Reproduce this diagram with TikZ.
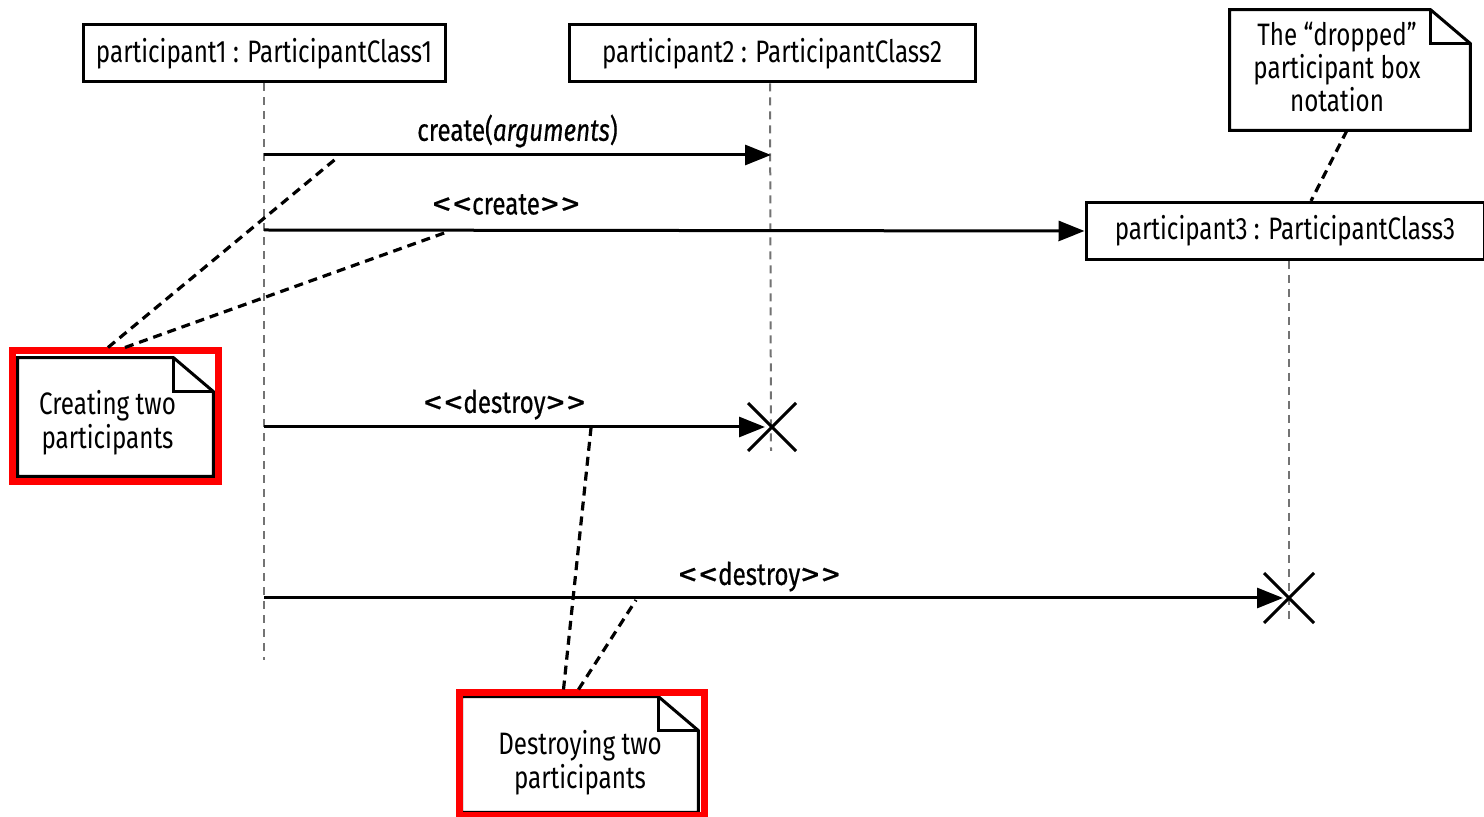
\documentclass[tikz,border=0pt]{standalone}
\usepackage{fontspec}
\setmainfont[FakeStretch=0.78]{Fira Sans}
\newfontfamily\msgfont[FakeStretch=0.78, FakeBold=0.5]{Fira Sans}
\newfontfamily\brfont[FakeStretch=1.25, FakeBold=0.5]{Fira Sans}
\newcommand\openguil{{\brfont<\kern0.6pt<}}
\newcommand\closeguil{{\brfont>\kern0.6pt>}}
\usetikzlibrary{arrows.meta}
\begin{document}
\begin{tikzpicture}[x=0.5pt,y=-0.5pt,
  every node/.style={font=\fontsize{15.5}{17}\selectfont, inner sep=0pt},
  partbox/.style={draw, line width=1.5pt, minimum height=28.5pt, fill=white},
  lifeline/.style={draw=black!55, line width=1pt, dash pattern=on 4pt off 3pt},
  msg/.style={line width=1.5pt, -{Triangle[length=13pt,width=10pt]}},
  msglabel/.style={above=3pt, font=\msgfont\fontsize{15.5}{17}\selectfont},
  notelink/.style={line width=1.6pt, dash pattern=on 4.5pt off 3pt},
  notebody/.style={line width=1.5pt, fill=white},
  destroyx/.style={line width=1.5pt},
  highlight/.style={draw=red, line width=3.5pt}
]
\useasboundingbox (0,0) rectangle (1484,817);
\fill[white] (0,0) rectangle (1484,817);

% participants
\node[partbox, minimum width=181pt] (p1) at (264,53.5) {participant1 : ParticipantClass1};
\node[partbox, minimum width=203pt] (p2) at (772,53.5) {participant2 : ParticipantClass2};
\node[partbox, minimum width=199pt] (p3) at (1285,231) {participant3 : ParticipantClass3};

% lifeline points
\coordinate (l1end) at (264,660);
\coordinate (m1s) at (264,155);
\coordinate (m1e) at (771,155);
\coordinate (m2s) at (264,230);
\coordinate (m3s) at (264,427);
\coordinate (x2) at (771,427);
\coordinate (m4s) at (264,598);
\coordinate (x3) at (1289,598);

\draw[lifeline] (p1.south) -- (l1end);
\draw[lifeline] ([xshift=-1pt]p2.south) -- ([yshift=-12pt]x2);
\draw[lifeline] ([xshift=2pt]p3.south) -- ([yshift=-12pt]x3);

% messages
\draw[msg] (m1s) -- (m1e) node[midway, msglabel] {create(\textit{arguments})};
\draw[msg] (m2s) -- (p3.west) node[pos=0.295, msglabel, above=4pt] {\openguil create\closeguil};
\draw[msg] (m3s) -- ([xshift=-3pt]x2) node[pos=0.48, msglabel, above=0pt] {\openguil destroy\closeguil};
\draw[msg] (m4s) -- ([xshift=-3pt]x3) node[pos=0.486, msglabel, above=-0.5pt] {\openguil destroy\closeguil};

% destruction marks
\draw[destroyx] ([shift={(-23,-24)}]x2) -- ([shift={(25,24)}]x2)
                ([shift={(-23,24)}]x2) -- ([shift={(25,-24)}]x2);
\draw[destroyx] ([shift={(-25,-25)}]x3) -- ([shift={(25,25)}]x3)
                ([shift={(-25,25)}]x3) -- ([shift={(25,-25)}]x3);

% note: creating
\node[minimum width=97.5pt, minimum height=59pt] (nc) at (115.5,417) {};
\draw[notebody] (nc.south west) -- (nc.north west) -- ([xshift=-20pt]nc.north east)
  -- ([yshift=-17pt]nc.north east) -- (nc.south east) -- cycle;
\draw[line width=1.5pt] ([xshift=-20pt]nc.north east) |- ([yshift=-17pt]nc.north east);
\node[align=center] at ([shift={(-8,6)}]nc) {Creating two\\participants};
\node[highlight, minimum width=103pt, minimum height=65.5pt] (hc) at (115,416.5) {};

% note: dropped
\node[minimum width=120pt, minimum height=60pt] (nd) at (1350,70) {};
\draw[notebody] (nd.south west) -- (nd.north west) -- ([xshift=-20pt]nd.north east)
  -- ([yshift=-17pt]nd.north east) -- (nd.south east) -- cycle;
\draw[line width=1.5pt] ([xshift=-20pt]nd.north east) |- ([yshift=-17pt]nd.north east);
\node[align=center, font=\fontsize{15.5}{16.5}\selectfont] at ([shift={(-13,-3)}]nd) {The “dropped”\\participant box\\notation};

% note: destroying
\node[minimum width=118pt, minimum height=57.5pt] (ns) at (580,754.5) {};
\draw[notebody] (ns.south west) -- (ns.north west) -- ([xshift=-20pt]ns.north east)
  -- ([yshift=-17pt]ns.north east) -- (ns.south east) -- cycle;
\draw[line width=1.5pt] ([xshift=-20pt]ns.north east) |- ([yshift=-17pt]ns.north east);
\node[align=center] at ([shift={(0,8)}]ns) {Destroying two\\participants};
\node[highlight, minimum width=122.5pt, minimum height=61pt] (hs) at (581.5,754) {};

% note links
\coordinate (a1) at (338,157);
\coordinate (a2) at (447,232);
\coordinate (a3) at (591,428);
\coordinate (a4) at (636,600);
\draw[notelink] ([xshift=-3.5pt]hc.north) -- (a1);
\draw[notelink] ([xshift=5pt]hc.north) -- (a2);
\draw[notelink] ([xshift=-9pt]hs.north) -- (a3);
\draw[notelink] ([xshift=-1.5pt]hs.north) -- (a4);
\draw[notelink] ([xshift=-1.5pt]nd.south) -- ([xshift=13pt]p3.north);
\end{tikzpicture}
\end{document}
